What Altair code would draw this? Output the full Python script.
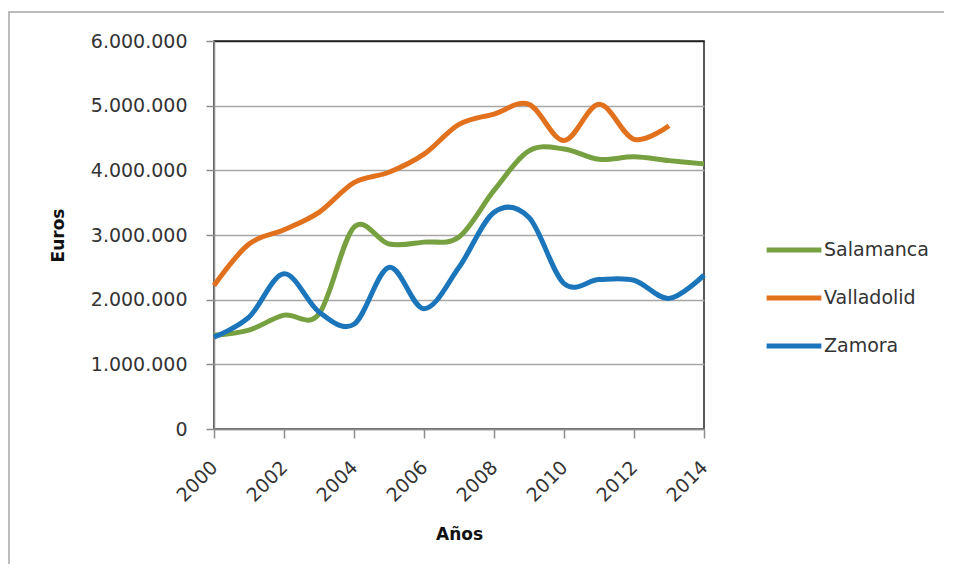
import altair as alt
import pandas as pd

years = list(range(2000, 2015))
salamanca = [1450000, 1530000, 1760000, 1780000, 3120000, 2860000, 2890000, 2970000,
             3690000, 4300000, 4330000, 4170000, 4210000, 4150000, 4100000]
valladolid = [2220000, 2860000, 3080000, 3350000, 3810000, 3970000, 4250000, 4710000,
              4870000, 5020000, 4460000, 5020000, 4480000, 4690000, None]
zamora = [1420000, 1730000, 2400000, 1810000, 1620000, 2500000, 1860000, 2500000,
          3350000, 3270000, 2250000, 2310000, 2300000, 2020000, 2380000]

series = ["Salamanca", "Valladolid", "Zamora"]
colors = ["#77A040", "#E2711D", "#1B75BB"]
x_ticks = [2000, 2002, 2004, 2006, 2008, 2010, 2012, 2014]
y_ticks = [0, 1000000, 2000000, 3000000, 4000000, 5000000, 6000000]

rows = []
for name, vals in zip(series, [salamanca, valladolid, zamora]):
    for yr, v in zip(years, vals):
        if v is not None:
            rows.append({"Año": yr, "Euros": v, "Provincia": name})
df = pd.DataFrame(rows)

FONT = "DejaVu Sans"

lines = alt.Chart(df).mark_line(interpolate="cardinal", strokeWidth=5).encode(
    x=alt.X("Año:Q",
            scale=alt.Scale(domain=[2000, 2014], nice=False, zero=False),
            axis=alt.Axis(values=x_ticks, format="d", labelAngle=-45,
                          labelAlign="right", labelBaseline="middle",
                          labelPadding=26, tickSize=9, title="Años",
                          titleX=245, titleY=105, titleBaseline="middle",
                          titleAlign="center", grid=False)),
    y=alt.Y("Euros:Q",
            scale=alt.Scale(domain=[0, 6000000], nice=False),
            axis=alt.Axis(values=y_ticks,
                          labelExpr="replace(replace(format(datum.value, ','), ',', '.'), ',', '.')",
                          labelPadding=19, tickSize=8, title="Euros",
                          titleX=-156, titleY=194, titleBaseline="middle",
                          titleAlign="center", titleAngle=-90,
                          gridColor={"condition": {"test": "datum.value == 6000000",
                                                   "value": "#222222"},
                                     "value": "#A6A6A6"})),
    color=alt.Color("Provincia:N",
                    scale=alt.Scale(domain=series, range=colors),
                    legend=alt.Legend(title=None, orient="none", legendX=550,
                                      legendY=179, symbolType="stroke",
                                      symbolSize=3000, symbolStrokeWidth=5,
                                      labelOffset=0, rowPadding=8,
                                      labelFontSize=19, labelFont=FONT,
                                      labelColor="#333333")),
)

border = alt.Chart(pd.DataFrame({"k": [0]})).mark_rect(
    fill=None, stroke="#A6A6A6", strokeWidth=1.5
).encode(
    x=alt.value(-205), x2=alt.value(760),
    y=alt.value(-29), y2=alt.value(560),
)

chart = alt.layer(border, lines).properties(
    width=490, height=388,
    autosize="none",
    background="white",
    padding={"left": 206, "top": 33, "right": 240, "bottom": 135},
).configure_view(
    stroke="#222222", strokeWidth=1.5
).configure_axis(
    labelFont=FONT, labelFontSize=19, labelColor="#333333",
    titleFont=FONT, titleFontSize=17, titleFontWeight="bold", titleColor="#111111",
    domainColor="#8C8C8C", domainWidth=1.5, tickColor="#8C8C8C", tickWidth=1.5,
    gridWidth=1.5,
)

chart.save("out.html", embed_options={"renderer": "svg", "actions": False})
